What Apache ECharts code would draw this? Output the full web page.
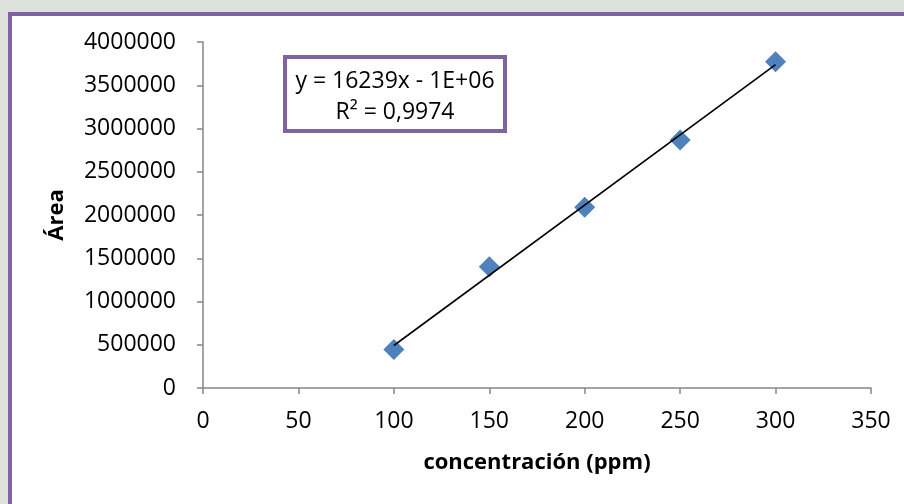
<!DOCTYPE html>
<html>
<head>
<meta charset="utf-8">
<script src="https://cdn.jsdelivr.net/npm/echarts@6/dist/echarts.min.js"></script>
<style>
  html, body { margin: 0; padding: 0; background: #dde2da; }
  #chart { width: 904px; height: 504px; }
</style>
</head>
<body>
<div id="chart"></div>
<script>
// concentración (ppm) vs Área
const concentrations = [100, 150, 200, 250, 300];
const areas = [445000, 1402000, 2089000, 2867000, 3772000];
const equationText = 'y = 16239x - 1E+06';
const r2Text = 'R² = 0,9974';

// least squares fit for the trend line
function linearFit(xs, ys) {
  const n = xs.length;
  const mx = xs.reduce((a, b) => a + b, 0) / n;
  const my = ys.reduce((a, b) => a + b, 0) / n;
  let sxy = 0;
  let sxx = 0;
  xs.forEach((x, i) => {
    sxy += (x - mx) * (ys[i] - my);
    sxx += (x - mx) * (x - mx);
  });
  const slope = sxy / sxx;
  return { slope, intercept: my - slope * mx };
}

const fit = linearFit(concentrations, areas);
const xFirst = concentrations[0];
const xLast = concentrations[concentrations.length - 1];
const trendData = [
  [xFirst, fit.slope * xFirst + fit.intercept],
  [xLast, fit.slope * xLast + fit.intercept]
];

const font = 'Open Sans';
const axisColor = '#868686';

const chart = echarts.init(document.getElementById('chart'));

chart.setOption({
  animation: false,
  backgroundColor: '#dde2da',
  graphic: [
    {
      type: 'rect',
      z: -10,
      shape: { x: 10, y: 14, width: 920, height: 520 },
      style: { fill: '#ffffff', stroke: '#8064a2', lineWidth: 4 }
    },
    {
      type: 'rect',
      z: 10,
      shape: { x: 285, y: 57, width: 220, height: 74 },
      style: { fill: '#ffffff', stroke: '#8064a2', lineWidth: 4 }
    },
    {
      type: 'text',
      z: 11,
      x: 395,
      y: 81,
      style: {
        text: equationText,
        fill: '#000',
        font: '23px "Open Sans"',
        align: 'center',
        verticalAlign: 'middle'
      }
    },
    {
      type: 'text',
      z: 11,
      x: 395,
      y: 112,
      style: {
        text: r2Text,
        fill: '#000',
        font: '23px "Open Sans"',
        align: 'center',
        verticalAlign: 'middle'
      }
    }
  ],
  grid: {
    left: 203,
    right: 33,
    top: 42,
    bottom: 116
  },
  xAxis: {
    type: 'value',
    min: 0,
    max: 350,
    interval: 50,
    name: 'concentración (ppm)',
    nameLocation: 'middle',
    nameGap: 64,
    nameTextStyle: { fontFamily: font, fontSize: 22, fontWeight: 'bold', color: '#000' },
    axisLine: { show: true, lineStyle: { color: axisColor, width: 1.5 } },
    axisTick: { show: true, length: 6, lineStyle: { color: axisColor, width: 1.5 } },
    axisLabel: { fontFamily: font, fontSize: 23, color: '#000', margin: 22 },
    splitLine: { show: false }
  },
  yAxis: {
    type: 'value',
    min: 0,
    max: 4000000,
    interval: 500000,
    name: 'Área',
    nameLocation: 'middle',
    nameGap: 135,
    nameRotate: 90,
    nameTextStyle: { fontFamily: font, fontSize: 22, fontWeight: 'bold', color: '#000' },
    axisLine: { show: true, lineStyle: { color: axisColor, width: 1.5 } },
    axisTick: { show: true, length: 6, lineStyle: { color: axisColor, width: 1.5 } },
    axisLabel: {
      fontFamily: font,
      fontSize: 23,
      color: '#000',
      margin: 27,
      formatter: (v) => String(v)
    },
    splitLine: { show: false }
  },
  series: [
    {
      name: 'Área',
      type: 'scatter',
      symbol: 'diamond',
      symbolSize: 21,
      itemStyle: { color: '#4f81bd', opacity: 1 },
      data: concentrations.map((x, i) => [x, areas[i]]),
      z: 3
    },
    {
      name: 'Lineal',
      type: 'line',
      showSymbol: false,
      symbol: 'none',
      lineStyle: { color: '#000', width: 1.6 },
      data: trendData,
      z: 4
    }
  ]
});
</script>
</body>
</html>
